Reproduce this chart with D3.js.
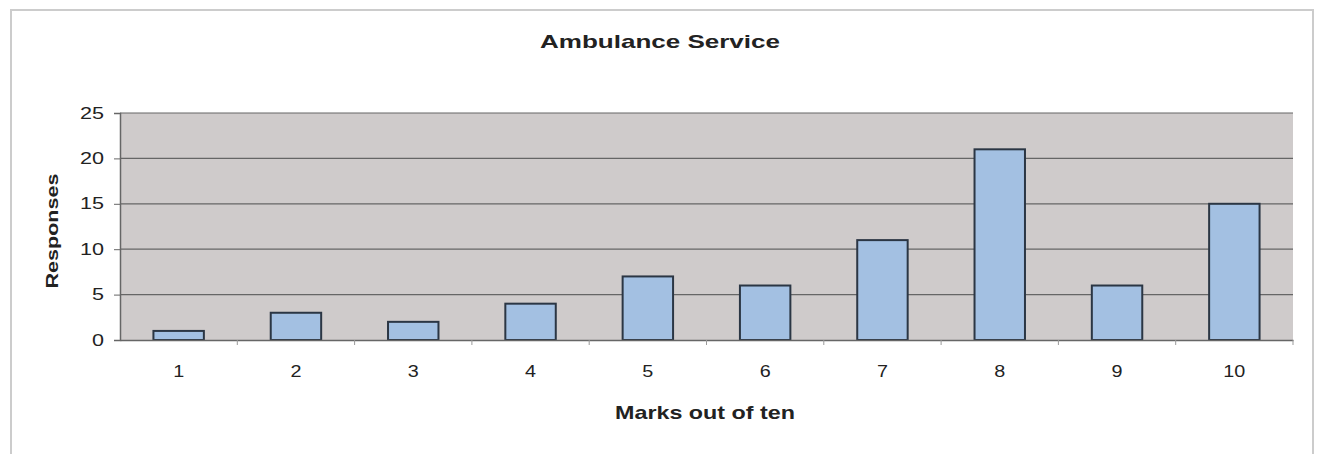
<!DOCTYPE html>
<html><head><meta charset="utf-8">
<script src="https://cdn.jsdelivr.net/npm/d3@7"></script>
<style>html,body{margin:0;padding:0;background:#fff;}svg{display:block;}text{font-family:"Liberation Sans",Arial,sans-serif;fill:#222;}</style>
</head><body>
<script>
const categories = ["1","2","3","4","5","6","7","8","9","10"];
const responses = [1,3,2,4,7,6,11,21,6,15];
const yTicks = [0,5,10,15,20,25];
const title = "Ambulance Service";
const xTitle = "Marks out of ten";
const yTitle = "Responses";

const W = 1319, H = 454;
const m = {left:120, right:26, top:113, bottom:114};
const svg = d3.select("body").append("svg").attr("width",W).attr("height",H);

// outer frame
svg.append("rect").attr("x",11).attr("y",10).attr("width",1302).attr("height",470)
  .attr("fill","none").attr("stroke","#cccccc").attr("stroke-width",2);

const x = d3.scaleBand().domain(categories).range([m.left, W-m.right]).paddingInner(0.57).paddingOuter(0.285);
const xb = d3.scaleBand().domain(categories).range([m.left, W-m.right]);
const y = d3.scaleLinear().domain([0,25]).range([H-m.bottom, m.top]);

// plot background
svg.append("rect").attr("x",m.left).attr("y",y(25)).attr("width",W-m.right-m.left).attr("height",y(0)-y(25))
  .attr("fill","#cfcbcb");

// gridlines
svg.append("g").selectAll("line").data(yTicks.filter(d=>d>0)).join("line")
  .attr("x1",m.left).attr("x2",W-m.right).attr("y1",d=>y(d)).attr("y2",d=>y(d))
  .attr("stroke","#666").attr("stroke-width",1.2);

// bars
svg.append("g").selectAll("rect").data(responses).join("rect")
  .attr("x",(d,i)=>x(categories[i])).attr("width",x.bandwidth())
  .attr("y",d=>y(d)).attr("height",d=>y(0)-y(d))
  .attr("fill","#a3c0e2").attr("stroke","#2b3644").attr("stroke-width",2);

// y axis
const yAxis = svg.append("g").attr("transform",`translate(${m.left},0)`)
  .call(d3.axisLeft(y).tickValues(yTicks).tickSize(6).tickPadding(10));
yAxis.select(".domain").attr("stroke","#666").attr("stroke-width",1.5);
yAxis.selectAll(".tick line").attr("stroke","#666");
yAxis.selectAll(".tick text").attr("font-size",16).attr("fill","#333")
  .attr("textLength",d=>String(d).length*12).attr("lengthAdjust","spacingAndGlyphs");

// x axis
const xAxis = svg.append("g").attr("transform",`translate(0,${y(0)})`)
  .call(d3.axisBottom(x).tickSize(0).tickPadding(26));
xAxis.select(".domain").attr("stroke","#666").attr("stroke-width",1.5);
xAxis.selectAll(".tick text").attr("font-size",16).attr("fill","#333")
  .attr("textLength",d=>String(d).length*11).attr("lengthAdjust","spacingAndGlyphs");
// x boundary ticks
svg.append("g").selectAll("line").data(categories.slice(1).concat(["end"])).join("line")
  .attr("x1",(d,i)=>i<categories.length-1? xb(d): W-m.right)
  .attr("x2",(d,i)=>i<categories.length-1? xb(d): W-m.right)
  .attr("y1",y(0)).attr("y2",y(0)+5).attr("stroke","#999");

// titles
svg.append("text").attr("x",660).attr("y",48).attr("text-anchor","middle")
  .attr("font-size",19).attr("font-weight","bold").attr("textLength",240).attr("lengthAdjust","spacingAndGlyphs").text(title);
svg.append("text").attr("x",705).attr("y",419).attr("text-anchor","middle")
  .attr("font-size",19).attr("font-weight","bold").attr("textLength",180).attr("lengthAdjust","spacingAndGlyphs").text(xTitle);
svg.append("text").attr("transform","translate(58,231) rotate(-90)").attr("text-anchor","middle")
  .attr("font-size",17).attr("font-weight","bold").attr("textLength",115).attr("lengthAdjust","spacingAndGlyphs").text(yTitle);
</script>
</body></html>
